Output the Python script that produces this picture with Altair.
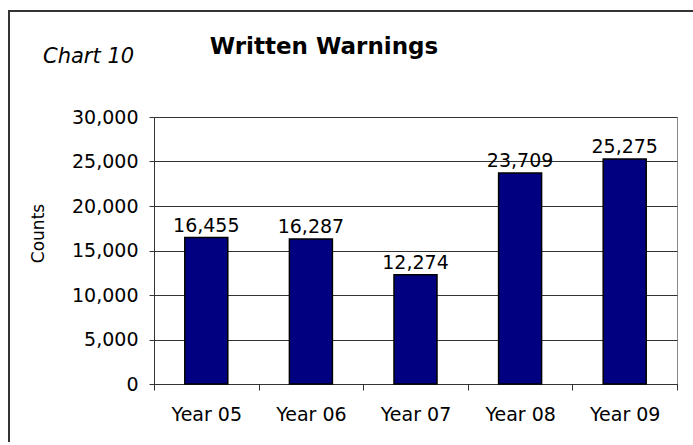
import altair as alt
import pandas as pd

# Written warnings issued per year
years = ["Year 05", "Year 06", "Year 07", "Year 08", "Year 09"]
warnings = [16455, 16287, 12274, 23709, 25275]
y_ticks = [0, 5000, 10000, 15000, 20000, 25000, 30000]

chart_title = ["Written Warnings"]
chart_tag = ["Chart 10"]

df = pd.DataFrame({"year": years, "count": warnings})

FONT = "DejaVu Sans"
W, H = 523, 267

x_enc = alt.X(
    "year:N",
    sort=years,
    title=None,
    scale=alt.Scale(paddingInner=0, paddingOuter=0),
    axis=alt.Axis(
        labelAngle=0,
        tickBand="extent",
        grid=False,
        tickSize=6,
        labelPadding=15,
        labelFontSize=19,
        labelFont=FONT,
        labelColor="black",
        domainColor="#333333",
        tickColor="#333333",
    ),
)
y_enc = alt.Y(
    "count:Q",
    title="Counts",
    scale=alt.Scale(domain=[0, 30000], nice=False),
    axis=alt.Axis(
        values=y_ticks,
        format=",.0f",
        tickSize=5,
        labelPadding=11,
        labelFontSize=19,
        labelFont=FONT,
        labelColor="black",
        domainColor="#333333",
        tickColor="#333333",
        grid=True,
        gridColor="#333333",
        gridWidth=1,
        titleFont=FONT,
        titleFontSize=17,
        titleFontWeight="normal",
        titleColor="black",
        titleAngle=270,
        titleX=-107,
        titleY=116,
    ),
)

# outer frame: left and top edges of the surrounding box, as thin filled strips
edge_top = alt.Chart(pd.DataFrame({"edge": ["top"]})).mark_rect(
    color="#333333", strokeWidth=0
).encode(
    x=alt.value(-146), x2=alt.value(W + 40), y=alt.value(-107), y2=alt.value(-105)
)
edge_left = alt.Chart(pd.DataFrame({"edge": ["left"]})).mark_rect(
    color="#333333", strokeWidth=0
).encode(
    x=alt.value(-146), x2=alt.value(-144), y=alt.value(-107), y2=alt.value(H + 70)
)

bars = alt.Chart(df).mark_bar(
    color="#000080", stroke="black", strokeWidth=1.5,
    width=alt.RelativeBandSize(0.411),
).encode(x=x_enc, y=y_enc)

labels = alt.Chart(df).mark_text(
    baseline="alphabetic", dy=-6, fontSize=19, font=FONT, color="black"
).encode(
    x=alt.X("year:N", sort=years),
    y=alt.Y("count:Q"),
    text=alt.Text("count:Q", format=",.0f"),
)

title = alt.Chart(pd.DataFrame({"t": chart_title})).mark_text(
    align="center", baseline="alphabetic", fontSize=23, fontWeight="bold",
    font=FONT, color="black"
).encode(x=alt.value(170), y=alt.value(-63), text="t:N")

tag = alt.Chart(pd.DataFrame({"t": chart_tag})).mark_text(
    align="left", baseline="alphabetic", fontSize=21, fontStyle="italic",
    font=FONT, color="black"
).encode(x=alt.value(-111), y=alt.value(-54), text="t:N")

chart = alt.layer(edge_top, edge_left, bars, labels, title, tag).properties(
    width=W,
    height=H,
    autosize=alt.AutoSizeParams(type="none"),
    padding={"left": 154, "top": 117, "right": 16, "bottom": 58},
    background="white",
).configure_view(stroke="#888888", strokeWidth=1)

chart.save("out.html", embed_options={"renderer": "svg", "actions": False})
